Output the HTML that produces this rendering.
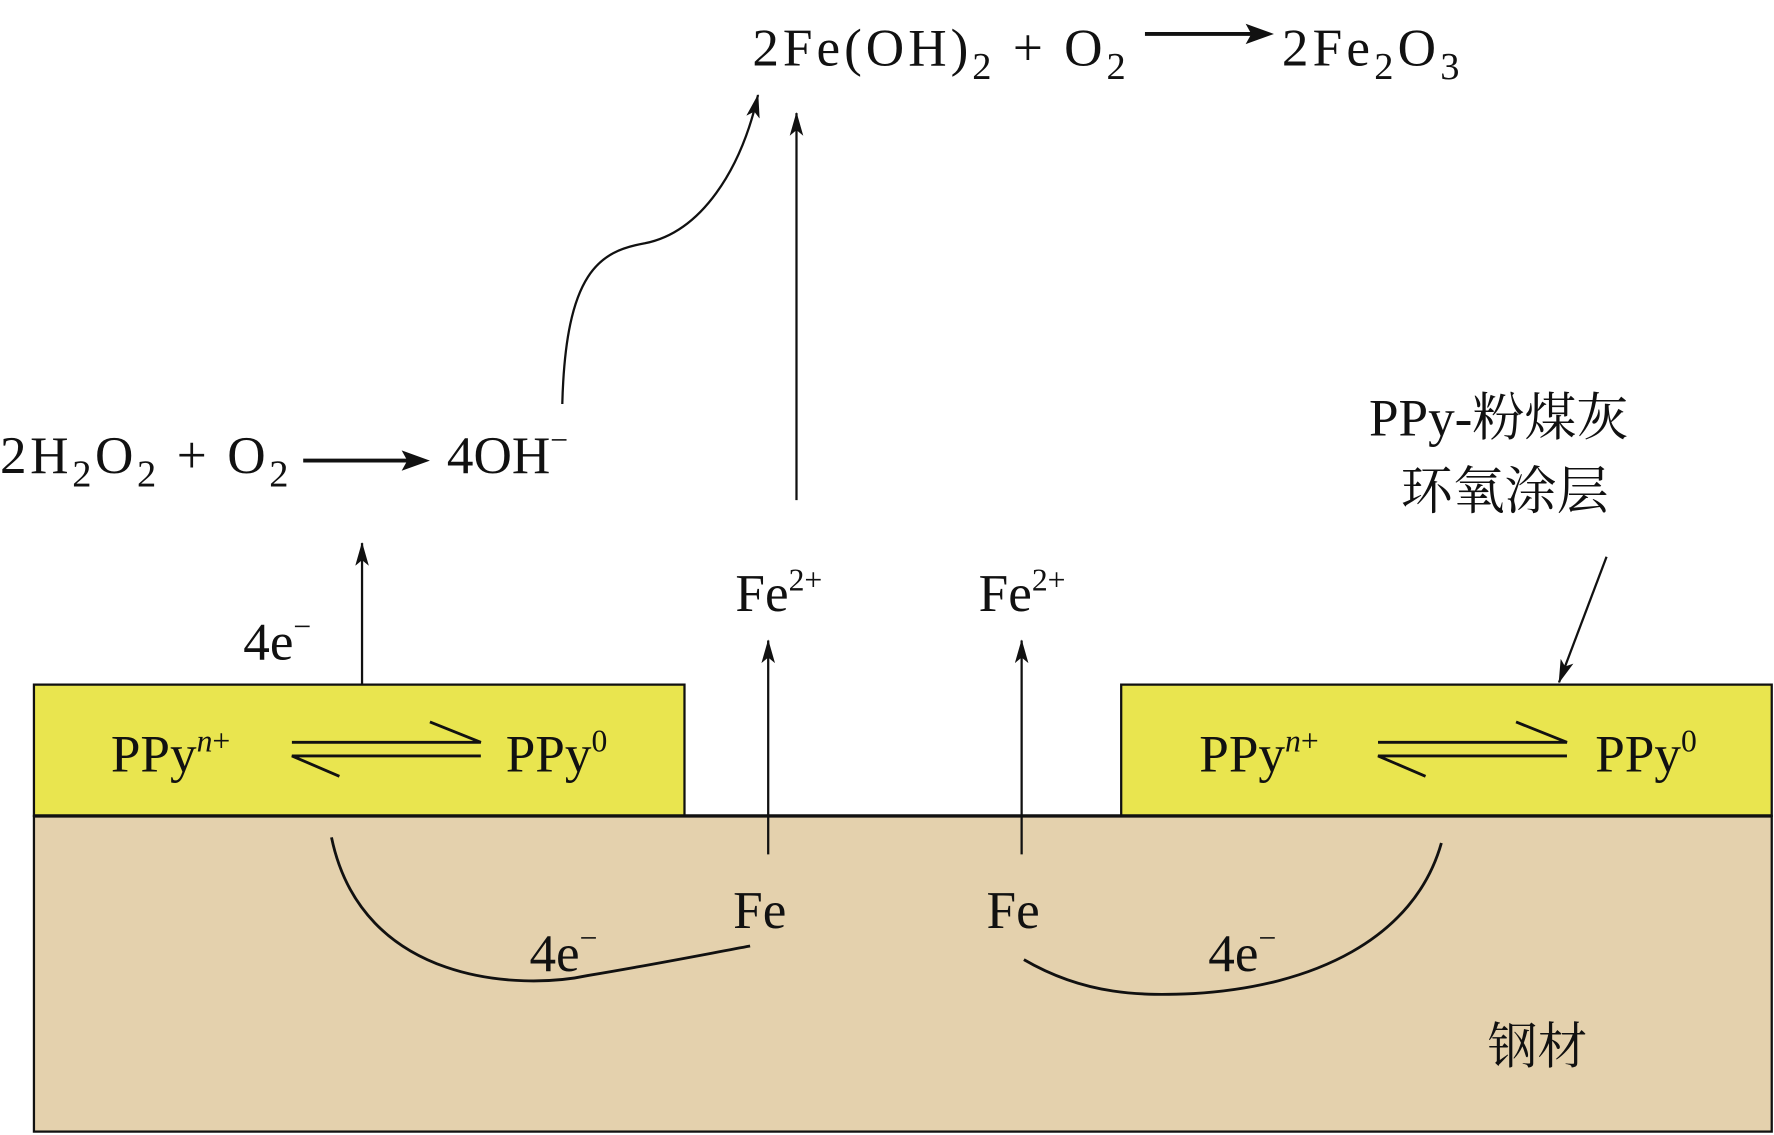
<!DOCTYPE html>
<html><head><meta charset="utf-8"><style>html,body{margin:0;padding:0;background:#fff}svg{display:block}</style></head><body>
<svg width="1774" height="1135" viewBox="0 0 1568 1003" preserveAspectRatio="none" xmlns="http://www.w3.org/2000/svg" font-family="'Liberation Serif','Noto Serif CJK SC',serif" font-size="47" fill="#111">
<defs>
<marker id="b" markerWidth="22" markerHeight="12" refX="20" refY="6" orient="auto" markerUnits="userSpaceOnUse"><path d="M0,0 L21,6 L0,12 L5,6z" fill="#111"/></marker></defs>
<rect x="30" y="721" width="1536" height="279" fill="#e4d1ad" stroke="#111" stroke-width="2"/>
<rect x="30" y="605" width="575" height="116" fill="#e9e54f" stroke="#111" stroke-width="2"/>
<rect x="991" y="605" width="575" height="116" fill="#e9e54f" stroke="#111" stroke-width="2"/>
<line x1="30" y1="721" x2="1566" y2="721" stroke="#111" stroke-width="3"/>
<g stroke="#111" stroke-width="2.5" fill="none">
<path d="M258,656 H425 L380,638"/><path d="M425,668 H258 L300,686"/>
<path d="M1218,656 H1385 L1340,638"/><path d="M1385,668 H1218 L1260,686"/>
</g>
<g stroke="#111" stroke-width="2" fill="none">
<line x1="320" y1="605" x2="320" y2="480" marker-end="url(#b)"/>
<line x1="679" y1="755" x2="679" y2="566" marker-end="url(#b)"/>
<line x1="903" y1="755" x2="903" y2="566" marker-end="url(#b)"/>
<line x1="704" y1="442" x2="704" y2="100" marker-end="url(#b)"/>
<path d="M497,357 C500,240 530,222 570,215 C620,205 655,150 670,84" marker-end="url(#b)"/>
<line x1="1420" y1="492" x2="1378" y2="603" marker-end="url(#b)"/>
<path d="M293,740 C320,870 460,875 520,862 C580,852 630,842 663,836" stroke-width="2.5"/>
<path d="M905,848 C960,880 1010,880 1055,878 C1160,872 1250,830 1274,745" stroke-width="2.5"/>
</g>
<g stroke="#111" stroke-width="3.5"><line x1="268" y1="407" x2="362" y2="407"/><line x1="1012" y1="30" x2="1108" y2="30"/></g>
<path d="M380,407 L355,398 L360,407 L355,416z" fill="#111"/>
<path d="M1126,30 L1101,21 L1106,30 L1101,39z" fill="#111"/>
<text x="98" y="682">PPy<tspan font-style="italic" font-size="28" dy="-18">n</tspan><tspan font-size="28">+</tspan></text>
<text x="447" y="682">PPy<tspan font-size="28" dy="-18">0</tspan></text>
<text x="1060" y="682">PPy<tspan font-style="italic" font-size="28" dy="-18">n</tspan><tspan font-size="28">+</tspan></text>
<text x="1410" y="682">PPy<tspan font-size="28" dy="-18">0</tspan></text>
<text x="215" y="583">4e<tspan font-size="28" dy="-20">−</tspan></text>
<text x="650" y="540">Fe<tspan font-size="28" dy="-18">2+</tspan></text>
<text x="865" y="540">Fe<tspan font-size="28" dy="-18">2+</tspan></text>
<text x="648" y="820">Fe</text>
<text x="872" y="820">Fe</text>
<text x="468" y="858">4e<tspan font-size="28" dy="-20">−</tspan></text>
<text x="1068" y="858">4e<tspan font-size="28" dy="-20">−</tspan></text>
<text x="1315" y="940" font-family="'Noto Serif CJK SC','Noto Sans CJK SC',serif" font-size="44">钢材</text>
<text x="0" y="418" textLength="255" lengthAdjust="spacing">2H<tspan font-size="34" dy="12">2</tspan><tspan dy="-12">O</tspan><tspan font-size="34" dy="12">2</tspan><tspan dy="-12"> + O</tspan><tspan font-size="34" dy="12">2</tspan></text>
<text x="395" y="418">4OH<tspan font-size="28" dy="-20">−</tspan></text>
<text x="665" y="58" textLength="330" lengthAdjust="spacing">2Fe(OH)<tspan font-size="34" dy="12">2</tspan><tspan dy="-12"> + O</tspan><tspan font-size="34" dy="12">2</tspan></text>
<text x="1133" y="58" textLength="157" lengthAdjust="spacing">2Fe<tspan font-size="34" dy="12">2</tspan><tspan dy="-12">O</tspan><tspan font-size="34" dy="12">3</tspan></text>
<text x="1210" y="385">PPy-<tspan font-family="'Noto Serif CJK SC','Noto Sans CJK SC',serif" font-size="46">粉煤灰</tspan></text>
<text x="1238" y="450" font-family="'Noto Serif CJK SC','Noto Sans CJK SC',serif" font-size="46">环氧涂层</text>
</svg>
</body></html>
